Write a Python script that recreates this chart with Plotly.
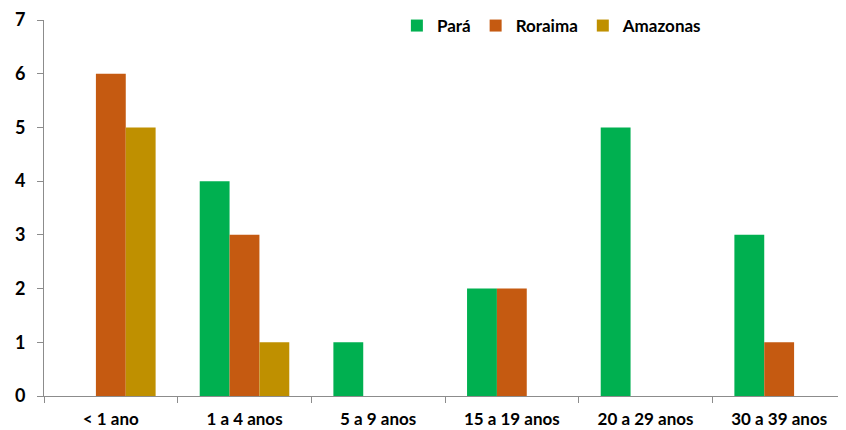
import plotly.graph_objects as go

categories = ["< 1 ano", "1 a 4 anos", "5 a 9 anos", "15 a 19 anos", "20 a 29 anos", "30 a 39 anos"]
para = [0, 4, 1, 2, 5, 3]
roraima = [6, 3, 0, 2, 0, 1]
amazonas = [5, 1, 0, 0, 0, 0]
series = [("Pará", para, "#00B050"), ("Roraima", roraima, "#C55A11"), ("Amazonas", amazonas, "#BF9000")]
y_ticks = [0, 1, 2, 3, 4, 5, 6, 7]

fig = go.Figure()
for name, vals, color in series:
    fig.add_trace(go.Bar(x=categories, y=vals, name=name, marker=dict(color=color, line=dict(width=0))))

font = "Lato, 'Open Sans', sans-serif"
fig.update_layout(
    width=838, height=422,
    margin=dict(l=36, r=0, t=9, b=34),
    paper_bgcolor="white", plot_bgcolor="white",
    barmode="group", bargap=0.33, bargroupgap=0,
    font=dict(family=font, size=16, color="#000000"),
    legend=dict(orientation="h", x=0.44, y=0.985, xanchor="left", yanchor="middle",
                font=dict(family=font, size=17, color="#000000", weight="bold"),
                bgcolor="rgba(0,0,0,0)", itemwidth=30, tracegroupgap=0),
    showlegend=True,
)
fig.update_xaxes(
    showline=True, linecolor="#8c8c8c", linewidth=1,
    ticks="outside", tickson="boundaries", ticklen=6, tickcolor="#8c8c8c",
    tickfont=dict(family=font, size=17, weight="bold"), showgrid=False, automargin=False,
    ticklabelstandoff=8,
)
fig.update_yaxes(
    range=[0, 7], tickvals=y_ticks, showline=True, linecolor="#8c8c8c", linewidth=1,
    ticks="outside", ticklen=6, tickcolor="#8c8c8c", showgrid=False, zeroline=False,
    tickfont=dict(family=font, size=18, weight="bold"), automargin=False,
    ticklabelstandoff=8,
)
fig.write_html("out.html")
